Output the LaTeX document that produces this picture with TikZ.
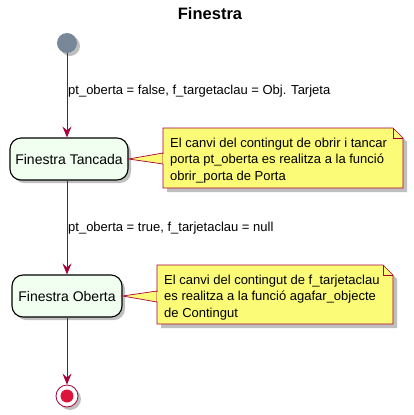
\documentclass[tikz,border=0pt]{standalone}
\usepackage{fontspec}
\setmainfont{Liberation Sans}
\usetikzlibrary{arrows.meta,shadows}
\definecolor{pumlred}{HTML}{A80036}
\definecolor{notefill}{HTML}{FBFB77}
\definecolor{statefill}{HTML}{F0FFF0}
\definecolor{startfill}{HTML}{778899}
\definecolor{endfill}{HTML}{DC143C}
\tikzset{
  shad/.style={drop shadow={shadow xshift=3pt,shadow yshift=-3pt,fill=black,opacity=0.25}},
  statebox/.style={draw=black,line width=1.1pt,fill=statefill,rounded corners=11pt,minimum height=42pt,inner xsep=2pt,font=\fontsize{14}{16}\selectfont,shad},
  trans/.style={draw=pumlred,line width=0.8pt,-{Stealth[length=11pt,width=9pt,inset=4pt]}},
  lbl/.style={font=\fontsize{13}{15}\selectfont,anchor=west,inner sep=0pt},
  notetext/.style={font=\fontsize{13}{16.3}\selectfont,anchor=north west,align=left,inner sep=0pt},
  notebox/.style={draw=pumlred,line width=0.7pt,fill=notefill},
}
\begin{document}
\begin{tikzpicture}[x=1pt,y=-1pt]
\useasboundingbox (0,0) rectangle (413,415);
% title
\node[font=\bfseries\fontsize{16.5}{18}\selectfont] (title) at (210,14) {Finestra};
% start
\node[circle,fill=startfill,minimum size=20pt,inner sep=0pt,shad] (start) at (67,43) {};
% states
\node[statebox,minimum width=118pt] (s1) at (69,159) {Finestra Tancada};
\node[statebox,minimum width=110pt] (s2) at (67,296) {Finestra Oberta};
% end
\node[circle,draw=pumlred,line width=0.8pt,fill=white,minimum size=22pt,inner sep=0pt,shad] (end) at (67,396) {};
\node[circle,fill=endfill,minimum size=13pt,inner sep=0pt] (endin) at (67,396) {};
% transitions
\draw[trans] (start.south) -- (s1.north -| start.south);
\draw[trans] (s1.south -| start.south) -- (s2.north -| start.south);
\draw[trans] (s2.south -| start.south) -- (end.north);
\node[lbl] (l1) at (68,91) {pt\_oberta = false, f\_targetaclau = Obj. Tarjeta};
\node[lbl] (l2) at (68,228) {pt\_oberta = true, f\_tarjetaclau = null};
% note 1
\fill[black,opacity=0.25] (167,132) -- (397,132) -- (407,142) -- (407,192) -- (167,192) -- cycle;
\path[notebox] (163,128) -- (393,128) -- (403,138) -- (403,188) -- (163,188) -- cycle;
\draw[pumlred,line width=0.7pt] (393,128) -- (393,138) -- (403,138);
\node[notetext] (n1) at (170,138) {El canvi del contingut de obrir i tancar\\porta pt\_oberta es realitza a la funció\\obrir\_porta de Porta};
\path[notebox] (s1.east) -- (163,153) -- (163,164) -- cycle;
\draw[notefill,line width=1pt] (163,153.5) -- (163,163.5);
% note 2
\fill[black,opacity=0.25] (161,269) -- (387,269) -- (397,279) -- (397,328) -- (161,328) -- cycle;
\path[notebox] (157,265) -- (383,265) -- (393,275) -- (393,324) -- (157,324) -- cycle;
\draw[pumlred,line width=0.7pt] (383,265) -- (383,275) -- (393,275);
\node[notetext] (n2) at (164,275) {El canvi del contingut de f\_tarjetaclau\\es realitza a la funció agafar\_objecte\\de Contingut};
\path[notebox] (s2.east) -- (157,291) -- (157,302) -- cycle;
\draw[notefill,line width=1pt] (157,291.5) -- (157,301.5);
\end{tikzpicture}
\end{document}
